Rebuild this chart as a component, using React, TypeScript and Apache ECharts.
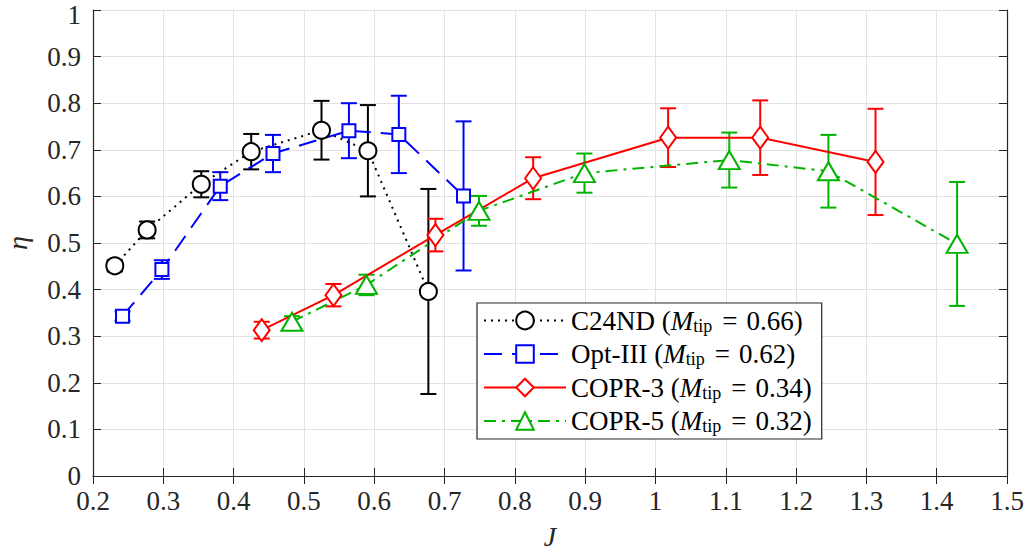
import React, { useEffect, useRef } from "react";
import * as echarts from "echarts";

const seriesNames = ["C24ND", "Opt-III", "COPR-3", "COPR-5"];
const mTip = ["0.66", "0.62", "0.34", "0.32"];

const c24ndJ = [0.231, 0.277, 0.354, 0.425, 0.525, 0.591, 0.677];
const c24ndEta = [0.451, 0.528, 0.626, 0.696, 0.742, 0.698, 0.396];
const c24ndErr = [0.012, 0.018, 0.028, 0.038, 0.063, 0.098, 0.22];

const optJ = [0.242, 0.298, 0.381, 0.456, 0.564, 0.635, 0.727];
const optEta = [0.343, 0.443, 0.622, 0.692, 0.741, 0.733, 0.601];
const optErr = [0.01, 0.02, 0.03, 0.04, 0.059, 0.083, 0.16];

const copr3J = [0.44, 0.542, 0.687, 0.826, 1.018, 1.149, 1.313];
const copr3Eta = [0.313, 0.388, 0.517, 0.639, 0.726, 0.726, 0.674];
const copr3Err = [0.018, 0.024, 0.035, 0.045, 0.063, 0.08, 0.114];

const copr5J = [0.483, 0.589, 0.749, 0.899, 1.105, 1.246, 1.429];
const copr5Eta = [0.331, 0.41, 0.569, 0.65, 0.678, 0.654, 0.498];
const copr5Err = [0.012, 0.022, 0.032, 0.042, 0.059, 0.078, 0.133];

const xTicks = { min: 0.2, max: 1.5, interval: 0.1 };
const yTicks = { min: 0, max: 1, interval: 0.1 };

const colors = ["#000000", "#0000ff", "#ff0000", "#00b400"];
const symbols = ["circle", "rect", "diamond", "triangle"];
const symbolSizes: any[] = [17, 13, [16, 22], [21, 18]];
const lineTypes: any[] = [[2, 5], [18, 10], "solid", [12, 6, 3, 6]];

const FONT = "'Liberation Serif', 'Times New Roman', serif";
const AX = "#262626";

export default function App() {
  const ref = useRef<HTMLDivElement>(null);
  useEffect(() => {
    if (!ref.current) return;
    const chart = echarts.init(ref.current, null, { renderer: "svg" });
    const groups = [
      [c24ndJ, c24ndEta, c24ndErr],
      [optJ, optEta, optErr],
      [copr3J, copr3Eta, copr3Err],
      [copr5J, copr5Eta, copr5Err],
    ];
    const series: any[] = [];
    groups.forEach(([js, etas, errs], k) => {
      series.push({
        name: seriesNames[k] + " err",
        type: "custom",
        z: 1,
        silent: true,
        data: js.map((j, i) => [j, etas[i] - errs[i], etas[i] + errs[i]]),
        renderItem: (params: any, api: any) => {
          const lo = api.coord([api.value(0), api.value(1)]);
          const hi = api.coord([api.value(0), api.value(2)]);
          const hw = 8;
          const style = { stroke: colors[k], lineWidth: 2 };
          return {
            type: "group",
            children: [
              { type: "line", shape: { x1: lo[0], y1: lo[1], x2: hi[0], y2: hi[1] }, style },
              { type: "line", shape: { x1: lo[0] - hw, y1: lo[1], x2: lo[0] + hw, y2: lo[1] }, style },
              { type: "line", shape: { x1: hi[0] - hw, y1: hi[1], x2: hi[0] + hw, y2: hi[1] }, style },
            ],
          };
        },
      });
      series.push({
        name: seriesNames[k],
        type: "line",
        z: 2,
        data: js.map((j, i) => [j, etas[i]]),
        symbol: symbols[k],
        symbolSize: symbolSizes[k],
        showAllSymbol: true,
        lineStyle: { color: colors[k], width: 2, type: lineTypes[k] },
        itemStyle: { color: "#ffffff", borderColor: colors[k], borderWidth: 2 },
      });
    });

    const axisCommon = {
      type: "value",
      axisLine: { show: true, lineStyle: { color: AX, width: 1.2 } },
      axisTick: { show: true, inside: true, length: 8, lineStyle: { color: AX, width: 1 } },
    };

    chart.setOption({
      animation: false,
      backgroundColor: "#ffffff",
      textStyle: { fontFamily: FONT },
      grid: { left: 93, right: 22, top: 10, bottom: 78, containLabel: false, outerBoundsMode: "none" },
      xAxis: [
        {
          ...axisCommon,
          ...xTicks,
          position: "bottom",
          name: "J",
          nameLocation: "middle",
          nameGap: 46,
          nameTextStyle: { fontFamily: FONT, fontStyle: "italic", fontSize: 28, color: AX },
          splitLine: { show: true, lineStyle: { color: "#e2e2e2", width: 1 } },
          axisLabel: { fontFamily: FONT, fontSize: 27, color: AX, margin: 11 },
        },
        {
          ...axisCommon,
          ...xTicks,
          position: "top",
          axisLabel: { show: false },
          splitLine: { show: false },
        },
      ],
      yAxis: [
        {
          ...axisCommon,
          ...yTicks,
          position: "left",
          name: "η",
          nameLocation: "middle",
          nameRotate: 90,
          nameGap: 62,
          nameTextStyle: { fontFamily: FONT, fontStyle: "italic", fontSize: 28, color: AX },
          splitLine: { show: true, lineStyle: { color: "#e2e2e2", width: 1 } },
          axisLabel: {
            fontFamily: FONT,
            fontSize: 27,
            color: AX,
            margin: 12,
            formatter: (v: number) => (v === 1 ? "{t|1}" : String(v)),
            rich: {
              t: { fontFamily: FONT, fontSize: 27, color: AX, padding: [10, 0, 0, 0] },
            },
          },
        },
        {
          ...axisCommon,
          ...yTicks,
          position: "right",
          axisLabel: { show: false },
          splitLine: { show: false },
        },
      ],
      legend: {
        orient: "vertical",
        left: 477,
        top: 303,
        data: seriesNames,
        backgroundColor: "#ffffff",
        borderColor: AX,
        borderWidth: 1.2,
        borderRadius: 0,
        padding: [4, 10, 4, 6],
        itemGap: 6,
        itemWidth: 82,
        itemHeight: 22,
        selectedMode: false,
        formatter: (name: string) => {
          const k = seriesNames.indexOf(name);
          return `{n|${name} (}{i|M}{s|tip}{e|=}{n|${mTip[k]})}`;
        },
        textStyle: {
          fontFamily: FONT,
          fontSize: 27,
          color: "#000",
          rich: {
            n: { fontFamily: FONT, fontSize: 27, color: "#000", lineHeight: 28 },
            i: { fontFamily: FONT, fontSize: 27, fontStyle: "italic", color: "#000", lineHeight: 28 },
            e: { fontFamily: FONT, fontSize: 27, color: "#000", lineHeight: 28, padding: [0, 9, 0, 9] },
            s: { fontFamily: FONT, fontSize: 18, color: "#000", lineHeight: 10, verticalAlign: "bottom", padding: [0, 1, 0, 0] },
          },
        },
      },
      series,
    });
    return () => chart.dispose();
  }, []);
  return (
    <div
      ref={ref}
      style={{ position: "fixed", left: 0, top: 0, width: 1029, height: 554, background: "#fff" }}
    />
  );
}
